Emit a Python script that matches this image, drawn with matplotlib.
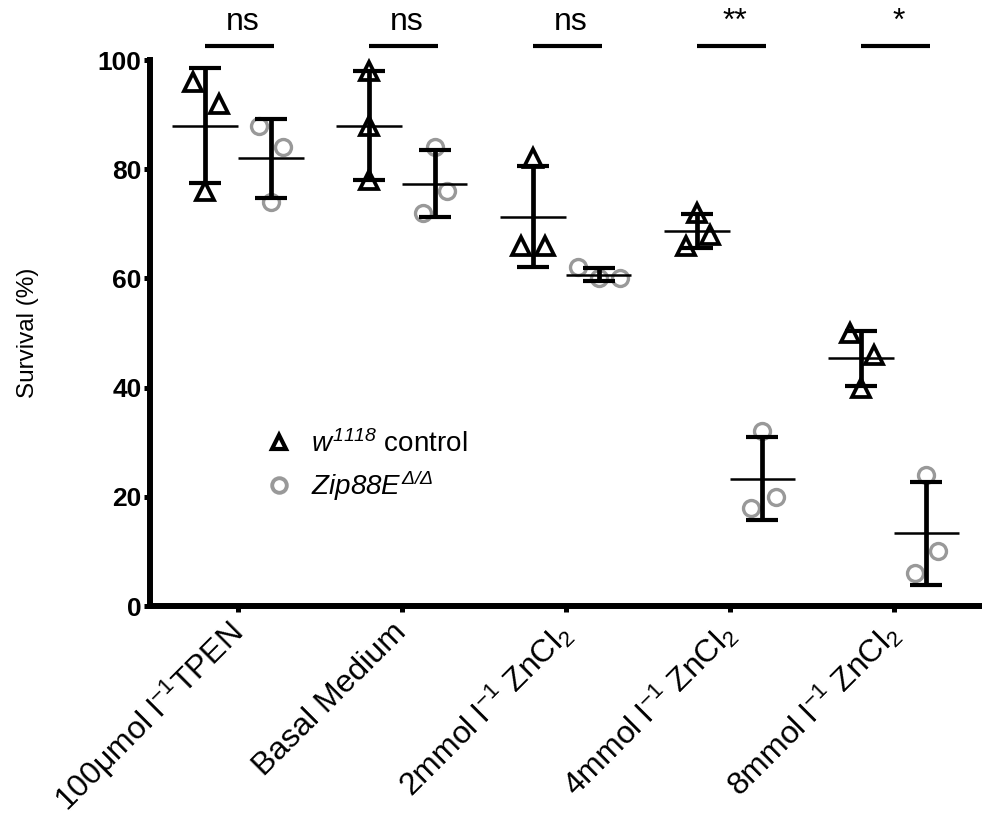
import numpy as np
import matplotlib
matplotlib.use("Agg")
import matplotlib.pyplot as plt
from matplotlib.lines import Line2D

plt.rcParams['font.family'] = ['Liberation Sans', 'DejaVu Sans']
plt.rcParams['mathtext.fontset'] = 'custom'
plt.rcParams['mathtext.rm'] = 'Liberation Sans:italic'
plt.rcParams['mathtext.it'] = 'Liberation Sans:italic'
plt.rcParams['mathtext.bf'] = 'Liberation Sans:bold'

# ---- data ----
categories = [r'100μmol l$^{\mathregular{-1}}$TPEN', 'Basal Medium',
              r'2mmol l$^{\mathregular{-1}}$ ZnCl$_{\mathregular{2}}$',
              r'4mmol l$^{\mathregular{-1}}$ ZnCl$_{\mathregular{2}}$',
              r'8mmol l$^{\mathregular{-1}}$ ZnCl$_{\mathregular{2}}$']
control_values = [[96, 92, 76], [98, 88, 78], [82, 66, 66], [72, 68, 66], [50, 46, 40]]
zip_values = [[88, 84, 74], [84, 76, 72], [62, 60, 60], [32, 20, 18], [24, 10, 6]]
significance = ['ns', 'ns', 'ns', '**', '*']
control_label = r'$w^{1118}$ control'
zip_label = r'$Zip88E^{\Delta/\Delta}$'
yticks = [0, 20, 40, 60, 80, 100]

# ---- style (jitter offsets for scatter points) ----
control_jitter = [[-0.073, 0.085, 0], [0, 0, 0], [0, -0.073, 0.073], [0, 0.08, -0.067], [-0.067, 0.08, 0]]
zip_jitter = [[-0.073, 0.073, 0], [0, 0.073, -0.073], [-0.128, 0, 0.128], [0, 0.08, -0.067], [0, 0.073, -0.067]]
grey = '#999999'

fig = plt.figure(figsize=(9.82, 8.18), dpi=100)
ax = fig.add_axes([150/982, 212/818, 832/982, 546/818])

def draw_group(i, vals, jit, xoff, marker, color, ms, mew):
    xc = i + xoff
    v = np.array(vals, dtype=float)
    m = v.mean()
    sd = v.std(ddof=1)
    ax.plot(xc + np.array(jit), v, linestyle='none', marker=marker, ms=ms,
            mfc='none', mec=color, mew=mew, zorder=3, clip_on=False)
    ax.hlines(m, xc - 0.2, xc + 0.2, colors='black', lw=1.8, zorder=4)
    ax.errorbar(xc, m, yerr=sd, fmt='none', ecolor='black', elinewidth=3.4,
                capsize=11.5, capthick=3.0, zorder=4, clip_on=False)

for i in range(len(categories)):
    draw_group(i, control_values[i], control_jitter[i], -0.2, '^', 'black', 12.5, 2.7)
    draw_group(i, zip_values[i], zip_jitter[i], 0.2, 'o', grey, 11.5, 2.4)
    ax.plot([i - 0.2, i + 0.22], [102.5, 102.5], color='black', lw=3.0,
            solid_capstyle='butt', clip_on=False)
    ax.text(i + 0.03, 104.3, significance[i], ha='center', va='bottom',
            fontsize=23, clip_on=False)

ax.set_xlim(-0.537, 4.54)
ax.set_ylim(0, 100)
ax.set_yticks(yticks)
ax.set_yticklabels([str(t) for t in yticks], fontsize=19, fontweight='bold')
ax.set_xticks(range(len(categories)))
ax.set_xticklabels(categories, fontsize=23)
plt.setp(ax.get_xticklabels(), rotation=45, ha='right', va='center',
         rotation_mode='anchor')
for s in ['top', 'right']:
    ax.spines[s].set_visible(False)
for s in ['left', 'bottom']:
    ax.spines[s].set_linewidth(4.3)
ax.tick_params(axis='both', width=3.6, length=4, direction='out')
ax.tick_params(axis='y', pad=2)
ax.tick_params(axis='x', pad=12)
ax.set_ylabel('Survival (%)', fontsize=17.5, labelpad=42)

handles = [Line2D([], [], linestyle='none', marker='^', ms=10, mfc='none', mec='black', mew=3.0),
           Line2D([], [], linestyle='none', marker='o', ms=10.5, mfc='none', mec=grey, mew=2.8)]
ax.legend(handles, [control_label, zip_label], loc='upper left',
          bbox_to_anchor=(0.122, 0.343), frameon=False, fontsize=20,
          handletextpad=0.55, labelspacing=0.38, handlelength=1.2,
          borderaxespad=0, borderpad=0.4)

fig.savefig('out.png', dpi=100)
